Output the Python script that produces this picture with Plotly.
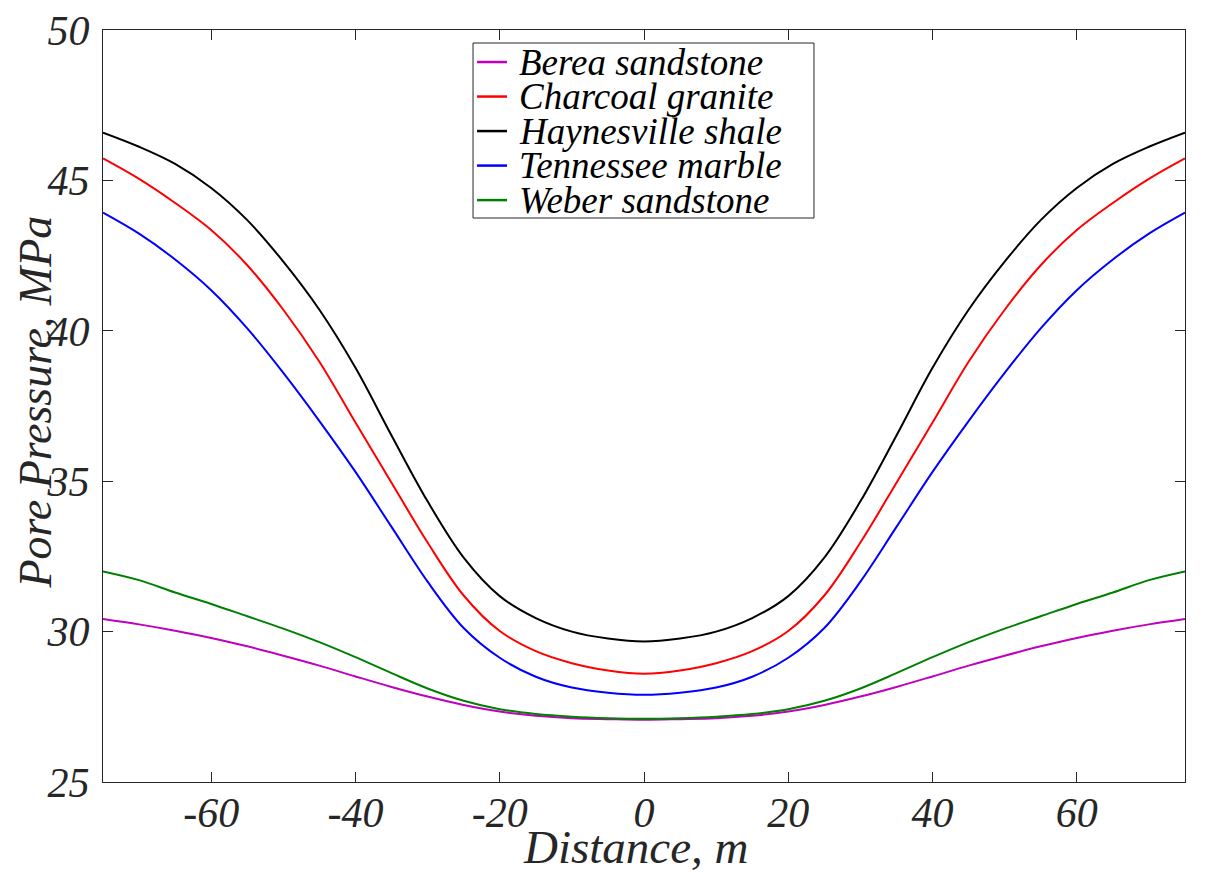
import plotly.graph_objects as go

# Distance along the profile, m
distance = [-75, -70, -65, -60, -55, -50, -45, -40, -35, -30, -25, -20, -15, -10, -5, 0,
            5, 10, 15, 20, 25, 30, 35, 40, 45, 50, 55, 60, 65, 70, 75]

# Pore pressure, MPa
berea = [30.42, 30.24, 30.03, 29.79, 29.51, 29.20, 28.87, 28.51, 28.16, 27.84, 27.56, 27.34, 27.20, 27.12, 27.09, 27.07,
         27.09, 27.12, 27.20, 27.34, 27.56, 27.84, 28.16, 28.51, 28.87, 29.20, 29.51, 29.79, 30.03, 30.24, 30.42]
charcoal = [45.73, 45.05, 44.25, 43.35, 42.18, 40.70, 38.97, 36.95, 34.95, 32.96, 31.20, 30.02, 29.35, 28.95, 28.71, 28.60,
            28.71, 28.95, 29.35, 30.02, 31.20, 32.96, 34.95, 36.95, 38.97, 40.70, 42.18, 43.35, 44.25, 45.05, 45.73]
haynesville = [46.59, 46.12, 45.55, 44.75, 43.68, 42.30, 40.70, 38.77, 36.52, 34.33, 32.46, 31.18, 30.45, 30.00, 29.77, 29.67,
               29.77, 30.00, 30.45, 31.18, 32.46, 34.33, 36.52, 38.77, 40.70, 42.30, 43.68, 44.75, 45.55, 46.12, 46.59]
tennessee = [43.93, 43.23, 42.37, 41.35, 40.08, 38.60, 37.00, 35.31, 33.48, 31.66, 30.12, 29.13, 28.50, 28.14, 27.97, 27.90,
             27.97, 28.14, 28.50, 29.13, 30.12, 31.66, 33.48, 35.31, 37.00, 38.60, 40.08, 41.35, 42.37, 43.23, 43.93]
weber = [32.00, 31.71, 31.30, 30.92, 30.51, 30.10, 29.65, 29.15, 28.62, 28.11, 27.70, 27.42, 27.26, 27.17, 27.12, 27.10,
         27.12, 27.17, 27.26, 27.42, 27.70, 28.11, 28.62, 29.15, 29.65, 30.10, 30.51, 30.92, 31.30, 31.71, 32.00]

names = ["Berea sandstone", "Charcoal granite", "Haynesville shale", "Tennessee marble", "Weber sandstone"]
series = [berea, charcoal, haynesville, tennessee, weber]
colors = ["#BF00BF", "#FF0000", "#000000", "#0000FF", "#008000"]

x_ticks = [-60, -40, -20, 0, 20, 40, 60]
y_ticks = [25, 30, 35, 40, 45, 50]

font_family = "Liberation Serif"
axis_color = "#262626"

fig = go.Figure()
for name, vals, col in zip(names, series, colors):
    fig.add_trace(go.Scatter(x=distance, y=vals, mode="lines", name=name, showlegend=False,
                             line=dict(color=col, width=2, shape="spline")))

# legend drawn by hand (MATLAB-style compact box) in paper coordinates
box_x0, box_x1, box_y0, box_y1 = 0.342, 0.6571, 0.750, 0.9827
row_top, row_step = 0.9574, 0.0459
fig.add_shape(type="rect", xref="paper", yref="paper", x0=box_x0, x1=box_x1, y0=box_y0, y1=box_y1,
              line=dict(color=axis_color, width=1), fillcolor="white", layer="above")
for i, (name, col) in enumerate(zip(names, colors)):
    yy = row_top - i * row_step
    fig.add_shape(type="line", xref="paper", yref="paper", x0=0.3457, x1=0.3734, y0=yy, y1=yy,
                  line=dict(color=col, width=2.5), layer="above")
    fig.add_annotation(xref="paper", yref="paper", x=0.3835, y=yy, text=name, showarrow=False,
                       xanchor="left", yanchor="middle", borderpad=0,
                       font=dict(family=font_family, size=37, color="black", style="italic"))

# axis titles as annotations so they sit where the original puts them
title_font = dict(family=font_family, size=47, color=axis_color, style="italic")
fig.add_annotation(xref="paper", yref="paper", x=0.4926, y=-0.0864, text="Distance, m", showarrow=False,
                   xanchor="center", yanchor="middle", borderpad=0, font=title_font)
fig.add_annotation(xref="paper", yref="paper", x=-0.0626, y=0.505, text="Pore Pressure, MPa", showarrow=False,
                   textangle=-90, xanchor="center", yanchor="middle", borderpad=0,
                   font=dict(family=font_family, size=46, color=axis_color, style="italic"))

axis_common = dict(
    showline=True, linecolor=axis_color, linewidth=1, mirror="ticks",
    ticks="inside", ticklen=10, tickcolor=axis_color, tickwidth=1,
    showgrid=False, zeroline=False, automargin=False, ticklabeloverflow="allow",
    tickfont=dict(family=font_family, size=42, color=axis_color, style="italic"),
)

# page body has an 8px margin, so the figure is offset by 8px inside the window
fig.update_layout(
    width=1199, height=867,
    margin=dict(l=95, r=22, t=22, b=93),
    paper_bgcolor="white", plot_bgcolor="white",
    xaxis=dict(range=[-75, 75], tickvals=x_ticks, ticktext=[str(v) for v in x_ticks],
               ticklabelstandoff=-6, **axis_common),
    yaxis=dict(range=[25, 50], tickvals=y_ticks, ticktext=[str(v) for v in y_ticks],
               ticklabelstandoff=4, **axis_common),
    showlegend=False,
)

fig.write_html("out.html")
